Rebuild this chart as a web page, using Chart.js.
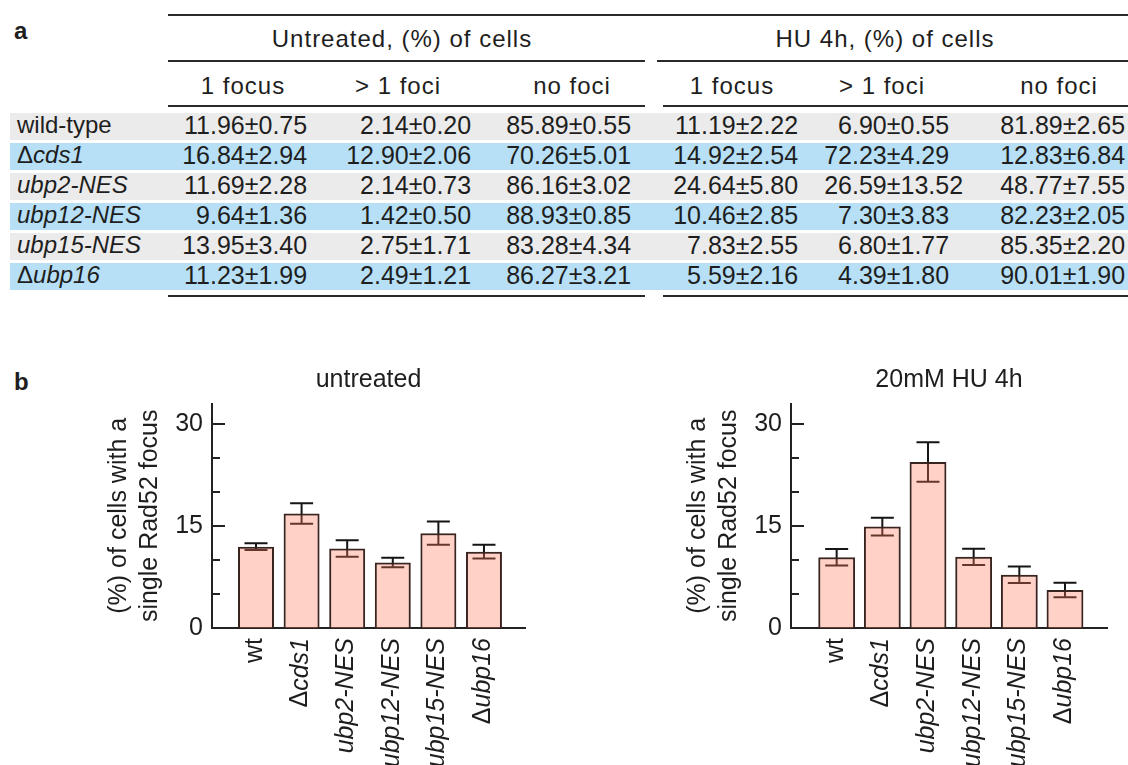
<!DOCTYPE html>
<html>
<head>
<meta charset="utf-8">
<script src="https://cdn.jsdelivr.net/npm/chart.js@4.4.1/dist/chart.umd.min.js"></script>
<style>
  html, body { margin: 0; padding: 0; background: #fff; }
  body { width: 1128px; height: 765px; overflow: hidden; position: relative;
         font-family: "Liberation Sans", Arial, Helvetica, sans-serif; color: #1e1e1e; }
  .t { position: absolute; font-size: 24px; line-height: 30px; white-space: nowrap; }
  .sp { letter-spacing: 1px; }
  .nm { font-size: 25px; }
  .rule { position: absolute; height: 2px; background: #2a2a2a; }
  .band { position: absolute; left: 10px; width: 1118px; height: 27px; }
  .int { display: inline-block; width: 28px; text-align: right; }
  canvas { position: absolute; top: 330px; }
</style>
</head>
<body>
<div id="table"></div>
<canvas id="left" width="564" height="470" style="left:0px"></canvas>
<canvas id="right" width="564" height="470" style="left:564px"></canvas>
<script>
// table (panel a)
const rowNames = ['wild-type', 'Δcds1', 'ubp2-NES', 'ubp12-NES', 'ubp15-NES', 'Δubp16']
const groupTitles = ['Untreated, (%) of cells', 'HU 4h, (%) of cells']
const colTitles = ['1 focus', '> 1 foci', 'no foci']
const untrOne = ['11.96±0.75', '16.84±2.94', '11.69±2.28', '9.64±1.36', '13.95±3.40', '11.23±1.99']
const untrMany = ['2.14±0.20', '12.90±2.06', '2.14±0.73', '1.42±0.50', '2.75±1.71', '2.49±1.21']
const untrNone = ['85.89±0.55', '70.26±5.01', '86.16±3.02', '88.93±0.85', '83.28±4.34', '86.27±3.21']
const huOne = ['11.19±2.22', '14.92±2.54', '24.64±5.80', '10.46±2.85', '7.83±2.55', '5.59±2.16']
const huMany = ['6.90±0.55', '72.23±4.29', '26.59±13.52', '7.30±3.83', '6.80±1.77', '4.39±1.80']
const huNone = ['81.89±2.65', '12.83±6.84', '48.77±7.55', '82.23±2.05', '85.35±2.20', '90.01±1.90']

// bar charts (panel b)
const strains = ['wt', 'Δcds1', 'ubp2-NES', 'ubp12-NES', 'ubp15-NES', 'Δubp16']
const untreatedFocus = [11.96, 16.84, 11.69, 9.64, 13.95, 11.23]
const untreatedErr = [0.5, 1.5, 1.2, 0.7, 1.7, 1.0]
const huFocus = [10.4, 14.92, 24.4, 10.46, 7.83, 5.59]
const huErr = [1.2, 1.3, 2.9, 1.2, 1.2, 1.05]
const yTicks = [0, 15, 30]

const FONT = '"Liberation Sans", Arial, Helvetica, sans-serif'
const table = document.getElementById('table')

function fmtName(s){
    if (s === 'wild-type' || s === 'wt') return s
    if (s[0] === 'Δ') return 'Δ<i>' + s.slice(1) + '</i>'
    return '<i>' + s + '</i>'
}

function text(html, x, baseline, cls, center){
    let d = document.createElement('div')
    d.className = 't ' + (cls || '')
    d.innerHTML = html
    d.style.top = (baseline - 23) + 'px'
    if (center) {
        d.style.left = (x - 200) + 'px'
        d.style.width = '400px'
        d.style.textAlign = 'center'
    } else {
        d.style.left = x + 'px'
    }
    table.appendChild(d)
}

function rule(x1, x2, y){
    let d = document.createElement('div')
    d.className = 'rule'
    d.style.left = x1 + 'px'
    d.style.width = (x2 - x1) + 'px'
    d.style.top = (y - 1) + 'px'
    table.appendChild(d)
}

function num(s){
    let p = s.indexOf('.')
    return '<span class="int">' + s.slice(0, p) + '</span>' + s.slice(p)
}

text('<b>a</b>', 14, 39)
text('<b>b</b>', 14, 390)

rule(168, 1128, 15)
rule(168, 645, 61); rule(657, 1128, 61)
rule(168, 645, 106); rule(663, 1128, 106)
rule(168, 645, 296); rule(663, 1128, 296)

text(groupTitles[0], 402, 47, 'sp', true)
text(groupTitles[1], 885, 47, 'sp', true)
let headCenters = [243, 398, 572, 732, 882, 1059]
headCenters.forEach((c, i) => text(colTitles[i % 3], c, 94, 'sp', true))

let columns = [untrOne, untrMany, untrNone, huOne, huMany, huNone]
let colStarts = [182, 346, 506, 673, 824, 1000]
for (let r = 0; r < rowNames.length; r++) {
    let top = 113 + 30 * r
    let band = document.createElement('div')
    band.className = 'band'
    band.style.top = top + 'px'
    band.style.background = r % 2 === 0 ? '#ebebeb' : '#b7e0f6'
    table.appendChild(band)
    text(fmtName(rowNames[r]), 17, top + 20)
    for (let c = 0; c < columns.length; c++) {
        text(num(columns[c][r]), colStarts[c], top + 20, 'nm')
    }
}

// error bars drawn before the bars, the bars are see-through
const errorBars = {
    id: 'errorBars',
    beforeDatasetsDraw(chart){
        let ctx = chart.ctx
        let y = chart.scales.y
        chart.data.datasets.forEach((ds, di) => {
            chart.getDatasetMeta(di).data.forEach((bar, i) => {
                let v = ds.data[i].y
                let e = ds.errors[i]
                let top = y.getPixelForValue(v + e)
                let bot = y.getPixelForValue(v - e)
                ctx.save()
                ctx.strokeStyle = '#151515'
                ctx.lineWidth = 2
                ctx.beginPath()
                ctx.moveTo(bar.x, top); ctx.lineTo(bar.x, bot)
                ctx.moveTo(bar.x - 11.5, top); ctx.lineTo(bar.x + 11.5, top)
                ctx.moveTo(bar.x - 11.5, bot); ctx.lineTo(bar.x + 11.5, bot)
                ctx.stroke()
                ctx.restore()
            })
        })
    }
}

// tick marks point into the plot
const innerTicks = {
    id: 'innerTicks',
    afterDraw(chart){
        let ctx = chart.ctx
        let y = chart.scales.y
        let left = chart.chartArea.left
        ctx.save()
        ctx.strokeStyle = '#222'
        ctx.lineWidth = 2
        y.ticks.forEach(t => {
            let py = Math.round(y.getPixelForValue(t.value))
            let len = yTicks.includes(t.value) ? 13 : 8
            ctx.beginPath()
            ctx.moveTo(left, py)
            ctx.lineTo(left + len, py)
            ctx.stroke()
        })
        ctx.restore()
    }
}

// vertical strain names, italic except wt and the delta
const xLabels = {
    id: 'xLabels',
    afterDraw(chart){
        let ctx = chart.ctx
        let x = chart.scales.x
        let top = chart.chartArea.bottom + 10
        strains.forEach((s, i) => {
            let parts
            if (s === 'wt') parts = [[s, false]]
            else if (s[0] === 'Δ') parts = [['Δ', false], [s.slice(1), true]]
            else parts = [[s, true]]
            ctx.save()
            ctx.translate(x.getPixelForValue(i) - 1, top)
            ctx.rotate(-Math.PI / 2)
            ctx.fillStyle = '#1e1e1e'
            ctx.textBaseline = 'middle'
            ctx.textAlign = 'left'
            let total = 0
            parts.forEach(p => {
                ctx.font = (p[1] ? 'italic ' : '') + '25px ' + FONT
                total += ctx.measureText(p[0]).width
            })
            let cx = -total
            parts.forEach(p => {
                ctx.font = (p[1] ? 'italic ' : '') + '25px ' + FONT
                ctx.fillText(p[0], cx, 0)
                cx += ctx.measureText(p[0]).width
            })
            ctx.restore()
        })
    }
}

Chart.defaults.font.family = FONT
Chart.defaults.color = '#1e1e1e'

function DrawChart(id, title, values, errors, pad, xMin, xMax){
    return new Chart(id, {
        type: 'bar',
        data: {
            datasets: [{
                data: values.map((v, i) => ({x: i, y: v})),
                errors: errors,
                backgroundColor: 'rgba(255,120,90,0.34)',
                borderColor: '#3a2420',
                borderWidth: 2,
                barPercentage: 0.877,
                categoryPercentage: 1
            }]
        },
        options: {
            responsive: false,
            animation: false,
            devicePixelRatio: 1,
            layout: {padding: pad},
            plugins: {
                legend: {display: false},
                tooltip: {enabled: false},
                title: {
                    display: true,
                    text: title,
                    fullSize: false,
                    color: '#1e1e1e',
                    font: {size: 25, weight: 'normal'},
                    padding: {top: 0, bottom: 8}
                }
            },
            scales: {
                x: {
                    type: 'linear',
                    min: xMin,
                    max: xMax,
                    offset: false,
                    z: 1,
                    grid: {display: false, drawTicks: false},
                    ticks: {display: false},
                    border: {color: '#222', width: 2},
                    afterFit: s => { s.height = 172 }
                },
                y: {
                    min: 0,
                    max: 33,
                    z: 1,
                    grid: {display: false, drawTicks: false},
                    border: {color: '#222', width: 2},
                    ticks: {
                        stepSize: 5,
                        includeBounds: false,
                        padding: 9,
                        font: {size: 25},
                        callback: v => yTicks.includes(v) ? v : ''
                    },
                    title: {
                        display: true,
                        text: ['(%) of cells with a', 'single Rad52 focus'],
                        font: {size: 25, lineHeight: 1.24},
                        padding: 0
                    },
                    afterFit: s => { s.width = 108 }
                }
            }
        },
        plugins: [errorBars, innerTicks, xLabels]
    })
}

DrawChart('left', 'untreated', untreatedFocus, untreatedErr,
    {left: 104, right: 39, top: 35.6, bottom: 0}, -0.965, 5.9)
DrawChart('right', '20mM HU 4h', huFocus, huErr,
    {left: 119, right: 21, top: 35.6, bottom: 0}, -1.0, 5.92)
</script>
</body>
</html>
